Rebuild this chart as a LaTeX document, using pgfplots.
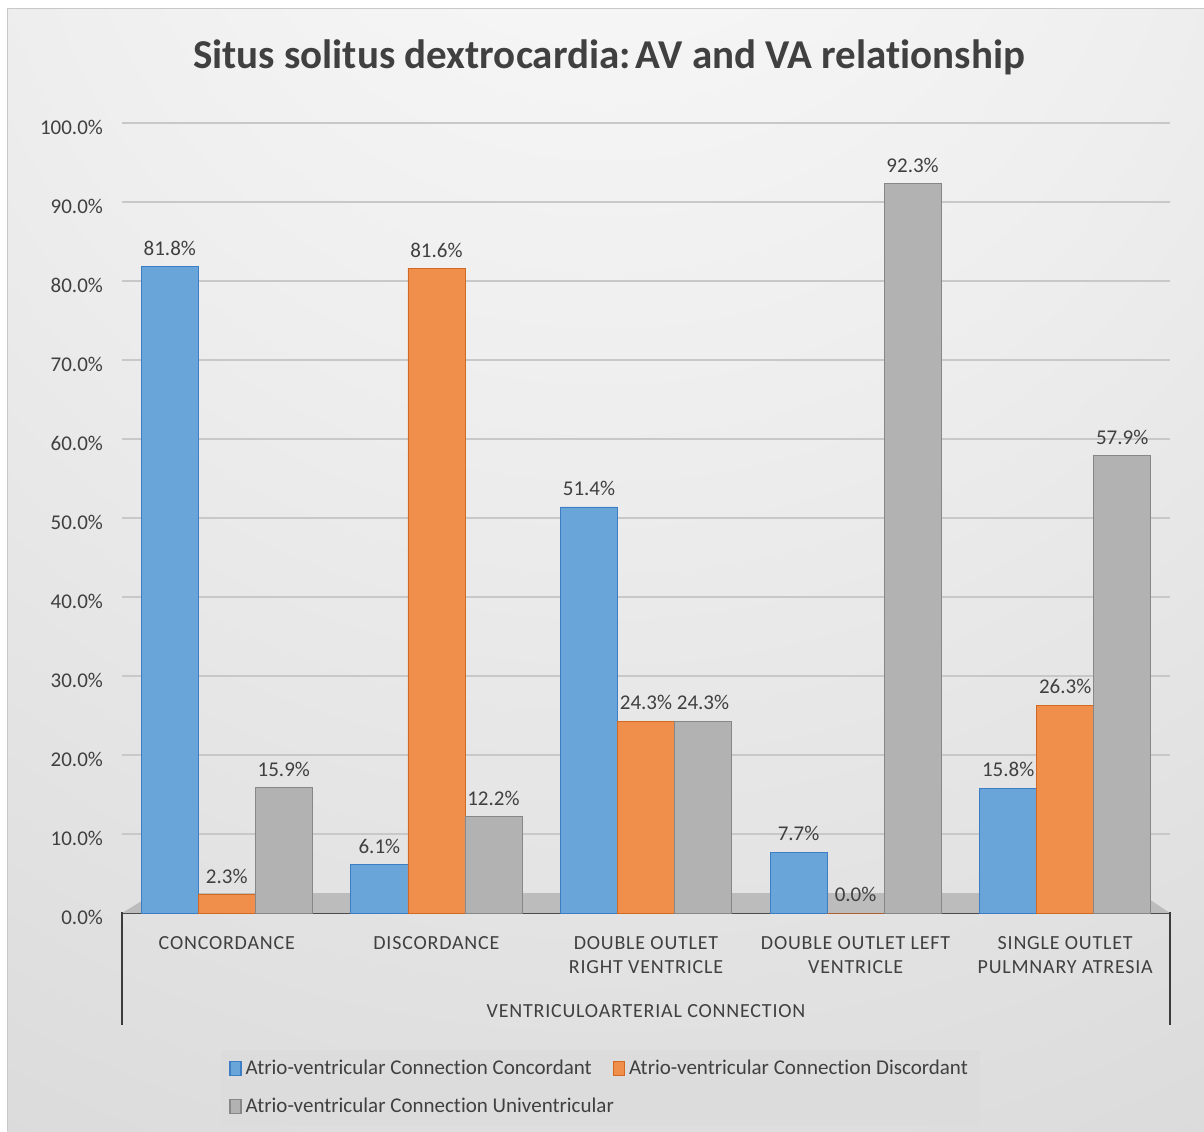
\documentclass[border=0pt]{standalone}
\usepackage{fontspec}
\setmainfont{Carlito}[Ligatures=NoCommon]
\newfontfamily\spaced[LetterSpace=4,Ligatures=NoCommon]{Carlito}
\usepackage{pgfplots}
\pgfplotsset{compat=1.18}

\definecolor{txt}{RGB}{64,64,64}
\definecolor{axisdark}{RGB}{60,60,60}
\definecolor{gridc}{RGB}{200,200,200}
\definecolor{floorc}{RGB}{188,188,188}
\definecolor{legbg}{RGB}{220,220,220}
\definecolor{blueF}{RGB}{106,165,218}
\definecolor{blueD}{RGB}{60,125,195}
\definecolor{orangeF}{RGB}{240,142,75}
\definecolor{orangeD}{RGB}{210,105,35}
\definecolor{grayF}{RGB}{178,178,178}
\definecolor{grayD}{RGB}{135,135,135}
\definecolor{bgA}{RGB}{252,252,252}
\definecolor{bgB}{RGB}{238,238,238}
\definecolor{bgC}{RGB}{214,214,214}
\definecolor{bgD}{RGB}{197,197,197}

\pgfdeclareradialshading{chartbg}{\pgfpoint{0bp}{42bp}}{color(0bp)=(bgA); color(25bp)=(bgB); color(60bp)=(bgC); color(105bp)=(bgD)}

\pgfplotsset{
  sqlegend/.style={legend image code/.code={\draw[##1,line width=0.6pt] (0pt,-3.5pt) rectangle (5.5pt,3.5pt);}},
}

\newcommand{\lbl}{\fontsize{10.5}{12}\selectfont}

\begin{document}
\begin{tikzpicture}
% background, coordinates in pixels of the reference (y downward)
\begin{scope}[x=0.5pt,y=-0.5pt,yshift=565.5pt]
  \fill[white] (0,0) rectangle (1204,1131);
  \shade[shading=chartbg] (7,9) rectangle (1204,1131);
  \draw[gridc,line width=0.5pt] (7,1131) -- (7,9) -- (1204,9);
\end{scope}

\begin{axis}[
  at={(61pt,109pt)}, anchor=south west,
  scale only axis, width=524pt, height=395pt,
  ybar=0pt, bar width=28.5pt,
  xmin=-0.5, xmax=4.5, ymin=0, ymax=100,
  xtick={0,1,2,3,4},
  xticklabels={CONCORDANCE, DISCORDANCE, {DOUBLE OUTLET\\RIGHT VENTRICLE}, {DOUBLE OUTLET LEFT\\VENTRICLE}, {SINGLE OUTLET\\PULMNARY ATRESIA}},
  ytick={0,10,...,100},
  yticklabel={\pgfmathprintnumber[fixed,fixed zerofill,precision=1]{\tick}\%},
  /pgf/number format/assume math mode=true,
  axis x line*=bottom, axis y line*=left,
  y axis line style={draw=none},
  x axis line style={draw=axisdark, line width=1.4pt},
  major tick length=0pt,
  ymajorgrids, grid style={gridc, line width=0.8pt},
  tick label style={text=txt},
  yticklabel style={font=\lbl, xshift=-6pt, yshift=-2pt},
  xticklabel style={font=\spaced\fontsize{10}{12}\selectfont, align=center, yshift=-8pt},
  nodes near coords={\pgfmathprintnumber[fixed,fixed zerofill,precision=1]{\pgfplotspointmeta}\%},
  every node near coord/.append style={font=\lbl, text=txt, yshift=2pt},
  legend columns=2,
  legend cell align=left,
  legend style={at={(0.0945,-0.173)}, anchor=north west, fill=legbg, draw=none,
    font=\fontsize{10.5}{12}\selectfont, text=txt, inner xsep=4pt, inner ysep=3pt,
    /tikz/every even column/.append style={column sep=-2.5pt}, /tikz/row sep=6pt},
  clip=false,
]
\fill[floorc] (axis cs:-0.5,0) -- (axis cs:4.5,0) -- (axis cs:4.357,2.53) -- (axis cs:-0.343,2.53) -- cycle;
\addplot[fill=blueF, draw=blueD, sqlegend] coordinates {(0,81.8) (1,6.1) (2,51.4) (3,7.7) (4,15.8)};
\addplot[fill=orangeF, draw=orangeD, sqlegend] coordinates {(0,2.3) (1,81.6) (2,24.3) (3,0.0) (4,26.3)};
\addplot[fill=grayF, draw=grayD, sqlegend] coordinates {(0,15.9) (1,12.2) (2,24.3) (3,92.3) (4,57.9)};
\legend{Atrio-ventricular Connection Concordant, Atrio-ventricular Connection Discordant, Atrio-ventricular Connection Univentricular}
\end{axis}

\begin{scope}[x=0.5pt,y=-0.5pt,yshift=565.5pt]
  \node[text=txt, font=\bfseries\fontsize{20.5}{24}\selectfont] at (609,57) {Situs solitus dextrocardia:\hspace{0.12em}AV and VA relationship};
  \draw[axisdark, line width=1.4pt] (122,912) -- (122,1025);
  \draw[axisdark, line width=1.4pt] (1170,912) -- (1170,1025);
  \node[text=txt, font=\spaced\fontsize{10}{12}\selectfont] at (646,1011) {VENTRICULOARTERIAL CONNECTION};
  \pgfresetboundingbox
  \path (0,0) rectangle (1204,1131);
\end{scope}
\end{tikzpicture}
\end{document}
